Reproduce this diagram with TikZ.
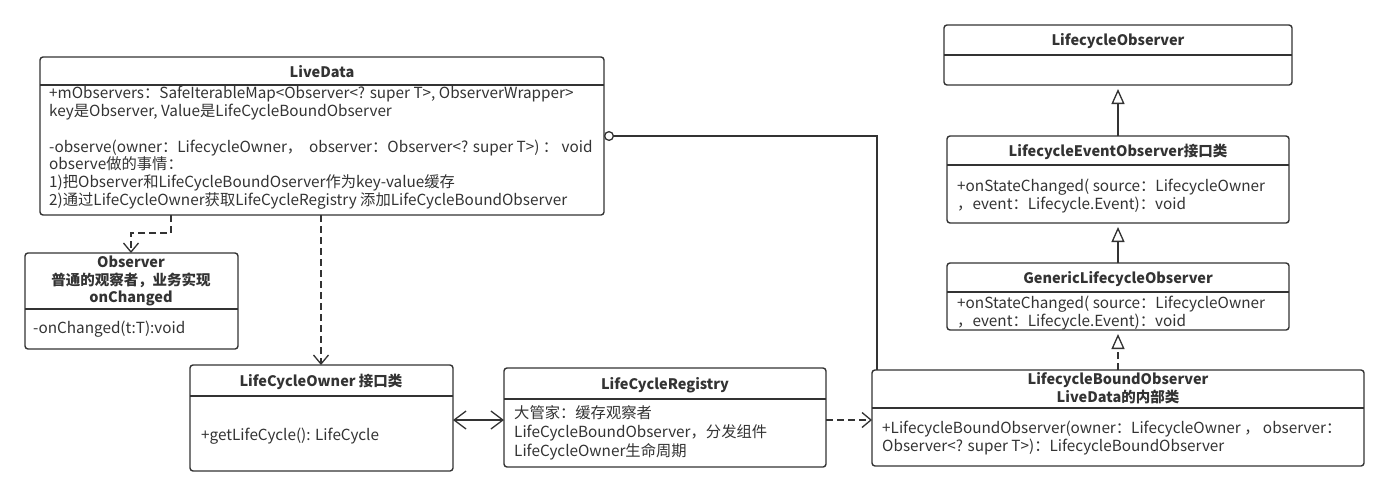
\documentclass[tikz,border=0pt]{standalone}
\usepackage{fontspec}
\setmainfont{Noto Sans CJK SC}
\usetikzlibrary{arrows.meta}
\definecolor{ink}{HTML}{333333}
\newcommand\umlbox[6]{%
  \node[cls, anchor=north west, minimum width={(#4-#2)*1pt}, minimum height={(#5-#3)*1pt}] (#1) at (#2,#3) {};
  \draw[ln] (#1.west |- 0,#6) -- (#1.east |- 0,#6);}
\newcommand\tline[4]{\node[txt, anchor=base west] (#1) at (#2,{#3+5}) {#4};}
\newcommand\thead[4]{\node[txt, anchor=base, font=\fontsize{14.5}{18}\selectfont\bfseries] (#1) at (#2,{#3+5}) {#4};}
\begin{document}
\begin{tikzpicture}[x=1pt,y=-1pt,
  cls/.style={draw=ink, line width=1.4pt, rounded corners=3pt, inner sep=0pt, outer sep=0pt, fill=white},
  ln/.style={draw=ink, line width=1.4pt},
  txt/.style={text=ink, inner sep=0pt, font=\fontsize{15.3}{18}\selectfont},
  conn/.style={draw=ink, line width=1.3pt},
  dsh/.style={conn, dash pattern=on 7pt off 4pt},
  barb/.tip={Straight Barb[length=9pt,width=15pt,line width=1.3pt]},
  bigbarb/.tip={Straight Barb[length=12pt,width=18pt,line width=1.3pt]},
  tri/.tip={Triangle[open,length=15pt,width=13pt,line width=1.3pt]},
  circ/.tip={Circle[open,length=10pt,line width=1.3pt]}]
\useasboundingbox (0,0) rectangle (1390,496);
\fill[white] (0,0) rectangle (1390,496);
% boxes
\umlbox{ld}{40}{57}{604}{215}{85}
\umlbox{obs}{25}{253}{238}{349}{309}
\umlbox{own}{190}{365}{453}{471}{396}
\umlbox{reg}{504}{368}{826}{467}{399}
\umlbox{lbo}{872}{370}{1364}{466}{408}
\umlbox{lo}{944}{25}{1292}{85}{55}
\umlbox{leo}{947}{136}{1289}{223}{165}
\umlbox{glo}{947}{263}{1289}{330}{292}
% LiveData
\thead{ldh}{322}{72}{LiveData}
\tline{ld1}{49}{93}{+mObservers：SafeIterableMap<Observer<? super T>, ObserverWrapper>}
\tline{ld2}{49}{111}{key是Observer, Value是LifeCycleBoundObserver}
\tline{ld3}{49}{147}{-observe(owner：LifecycleOwner，\ \ observer：Observer<? super T>) ： void}
\tline{ld4}{49}{164}{observe做的事情：}
\tline{ld5}{49}{182}{1)把Observer和LifeCycleBoundOserver作为key-value缓存}
\tline{ld6}{49}{200}{2)通过LifeCycleOwner获取LifeCycleRegistry 添加LifeCycleBoundObserver}
% Observer
\thead{obh1}{131}{262}{Observer}
\thead{obh2}{131}{280}{普通的观察者，业务实现}
\thead{obh3}{131}{297}{onChanged}
\tline{ob1}{33}{328}{-onChanged(t:T):void}
% Owner
\thead{owh}{321}{381}{LifeCycleOwner 接口类}
\tline{ow1}{201}{435}{+getLifeCycle(): LifeCycle}
% Registry
\thead{rgh}{665}{384}{LifeCycleRegistry}
\tline{rg1}{514}{413}{大管家：缓存观察者}
\tline{rg2}{514}{432}{LifeCycleBoundObserver，分发组件}
\tline{rg3}{514}{451}{LifeCycleOwner生命周期}
% LifecycleBoundObserver
\thead{lbh1}{1118}{379}{LifecycleBoundObserver}
\thead{lbh2}{1118}{397}{LiveData的内部类}
\tline{lb1}{882}{428}{+LifecycleBoundObserver(owner：LifecycleOwner ， observer：}
\tline{lb2}{882}{446}{Observer<? super T>)：LifecycleBoundObserver}
% LifecycleObserver
\thead{loh}{1118}{40}{LifecycleObserver}
% LifecycleEventObserver
\thead{leh}{1118}{151}{LifecycleEventObserver接口类}
\tline{le1}{957}{186}{+onStateChanged( source：LifecycleOwner}
\tline{le2}{957}{204}{，event：Lifecycle.Event)：void}
% Generic
\thead{glh}{1118}{278}{GenericLifecycleObserver}
\tline{gl1}{957}{303}{+onStateChanged( source：LifecycleOwner}
\tline{gl2}{957}{321}{，event：Lifecycle.Event)：void}
% connectors
\coordinate (c1) at (171,233);
\coordinate (c2) at (131,233);
\draw[dsh, -barb] (ld.south -| c1) -- (c1) -- (c2) -- (obs.north -| c2);
\draw[dsh, -barb] (ld.south -| 321,0) -- (own.north -| 321,0);
\draw[conn, bigbarb-bigbarb] (own.east |- 0,420) -- (reg.west |- 0,420);
\draw[dsh, -barb] (reg.east |- 0,420) -- (lbo.west |- 0,420);
\draw[conn, circ-] (ld.east |- 0,136) -| (lbo.north -| 877,0);
\draw[conn, -tri, shorten >=4pt] (leo.north) -- (lo.south);
\draw[conn, -tri, shorten >=4pt] (glo.north) -- (leo.south);
\draw[dsh, -tri, shorten >=4pt] (lbo.north) -- (glo.south);
\end{tikzpicture}
\end{document}
